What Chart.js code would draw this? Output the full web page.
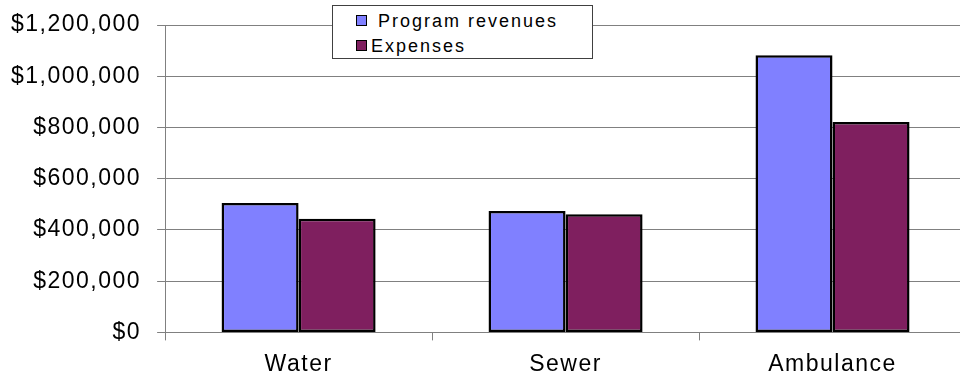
<!DOCTYPE html>
<html>
<head>
<meta charset="utf-8">
<script src="https://cdn.jsdelivr.net/npm/chart.js@4"></script>
<style>
  html, body { margin: 0; padding: 0; background: #fff; overflow: hidden; }
  #wrap { position: relative; width: 968px; height: 380px; }
  #legend {
    position: absolute; left: 332px; top: 5px; width: 259px; height: 52px;
    border: 1px solid #404040; background: #fff;
    font-family: "Liberation Sans", Arial, sans-serif; font-size: 18px; letter-spacing: 2px;
    color: #000;
  }
  .item { position: absolute; left: 23px; height: 22px; line-height: 22px; white-space: nowrap; }
  .swatch { display: inline-block; width: 9px; height: 9px; border: 1.5px solid #000; margin-right: 4px; vertical-align: 1px; }
</style>
</head>
<body>
<div id="wrap">
  <canvas id="chart" width="968" height="380"></canvas>
  <div id="legend"></div>
</div>
<script>
// ============ DATA ============
const categories = ['Water', 'Sewer', 'Ambulance'];
const programRevenues = [505000, 474000, 1082000];
const expenses = [444000, 461000, 821000];
const yTicks = [0, 200000, 400000, 600000, 800000, 1000000, 1200000];

const FONT = '"Liberation Sans", Arial, sans-serif';
const GRID = '#808080';

const datasets = [
  { label: ' Program revenues', data: programRevenues, backgroundColor: '#8080FF' },
  { label: 'Expenses', data: expenses, backgroundColor: '#7F1F5F' },
];

// wide Excel-style glyph spacing on the canvas text
const spacing = {
  id: 'spacing',
  beforeLayout(chart) { chart.ctx.letterSpacing = '1.5px'; },
  beforeDraw(chart) { chart.ctx.letterSpacing = '1.5px'; },
};

const chart = new Chart(document.getElementById('chart'), {
  type: 'bar',
  data: {
    labels: categories,
    datasets: datasets.map(d => ({
      ...d,
      borderColor: '#000',
      borderWidth: 2.5,
      borderSkipped: false,
      categoryPercentage: 0.577,
      barPercentage: 1,
    })),
  },
  options: {
    responsive: false,
    animation: false,
    layout: { padding: { left: -5, right: 2, top: 25, bottom: -8 } },
    plugins: { legend: { display: false }, tooltip: { enabled: false } },
    scales: {
      x: {
        grid: { display: true, drawOnChartArea: false, color: GRID, tickLength: 8, offset: true },
        border: { display: false },
        ticks: { color: '#000', font: { family: FONT, size: 23 }, padding: 10 },
      },
      y: {
        min: 0,
        max: 1200000,
        afterBuildTicks: (axis) => { axis.ticks = yTicks.map(v => ({ value: v })); },
        grid: { color: GRID, tickLength: 8, lineWidth: 1 },
        border: { display: true, color: GRID, width: 1 },
        ticks: {
          color: '#000',
          // small lineHeight keeps the top label from pushing the plot down
          font: { family: FONT, size: 23, lineHeight: 0.6 },
          padding: 16,
          callback: (v) => '$' + Number(v).toLocaleString('en-US'),
        },
      },
    },
  },
  plugins: [spacing],
});

// legend box drawn over the plot, like the original sheet chart
document.getElementById('legend').innerHTML = datasets.map((d, i) => `
  <div class="item" style="top:${4 + i * 25}px">
    <span class="swatch" style="background:${d.backgroundColor}"></span>${d.label.replace(/^ /, '&nbsp;')}
  </div>
`).join('');
</script>
</body>
</html>
